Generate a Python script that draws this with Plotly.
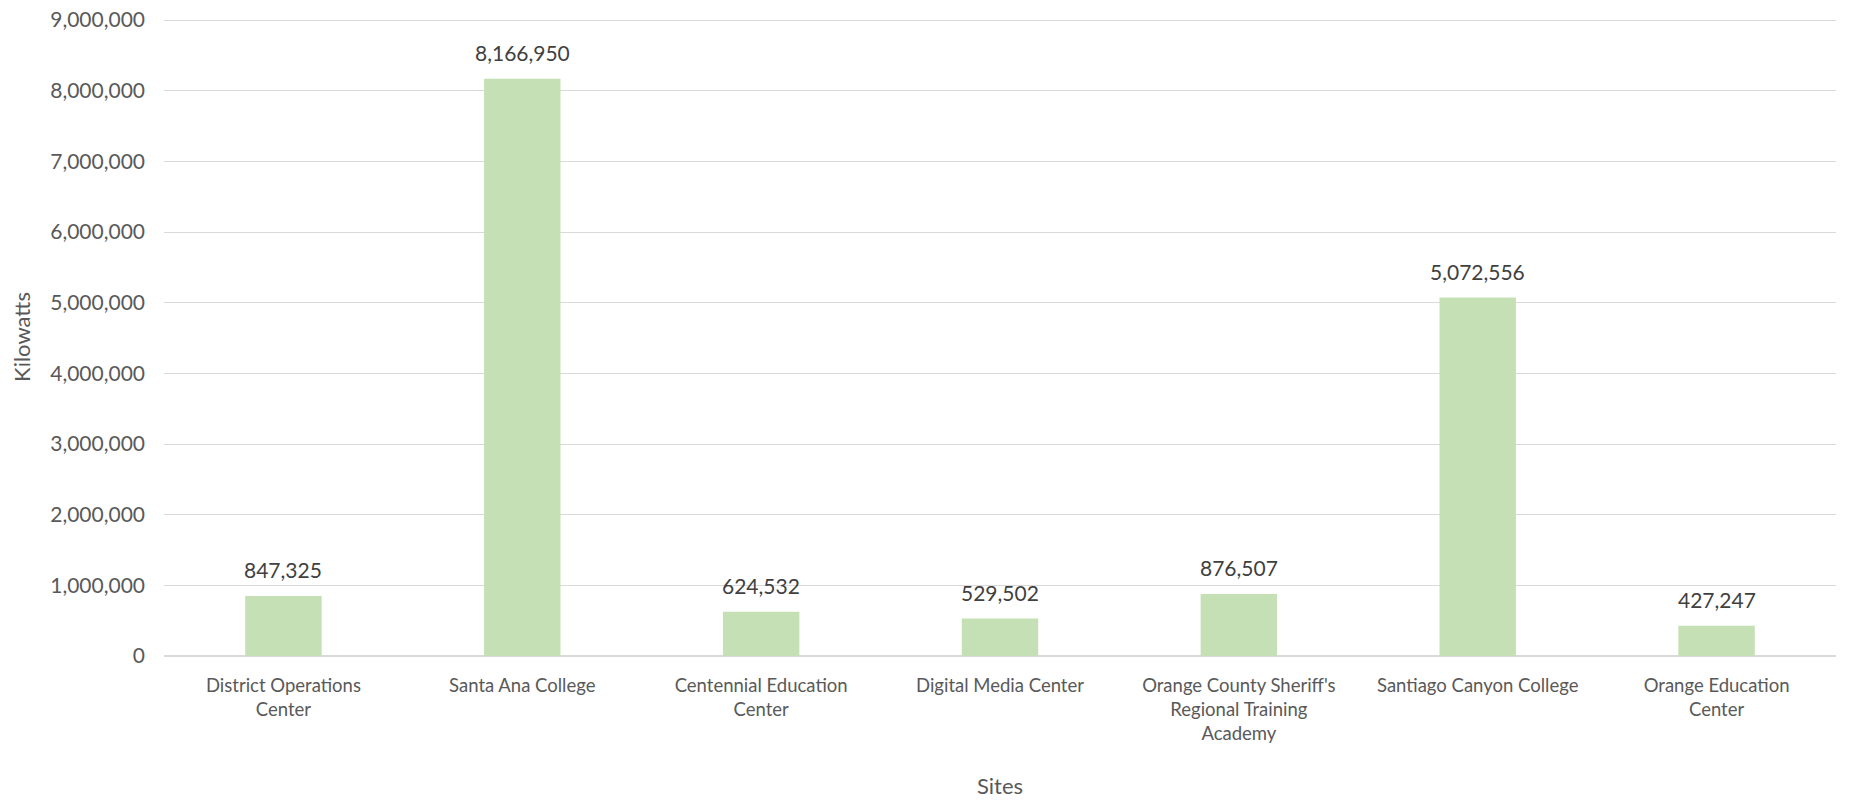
import plotly.graph_objects as go

sites = ["District Operations<br>Center", "Santa Ana College", "Centennial Education<br>Center",
         "Digital Media Center", "Orange County Sheriff's<br>Regional Training<br>Academy",
         "Santiago Canyon College", "Orange Education<br>Center"]
kilowatts = [847325, 8166950, 624532, 529502, 876507, 5072556, 427247]
tick_vals = [0, 1000000, 2000000, 3000000, 4000000, 5000000, 6000000, 7000000, 8000000, 9000000]
tick_text = ["0", "1,000,000", "2,000,000", "3,000,000", "4,000,000", "5,000,000",
             "6,000,000", "7,000,000", "8,000,000", "9,000,000"]
value_labels = ["847,325", "8,166,950", "624,532", "529,502", "876,507", "5,072,556", "427,247"]

font_family = "Lato, Open Sans, sans-serif"

fig = go.Figure(go.Bar(
    x=sites, y=kilowatts,
    marker=dict(color="#c5e0b4", line=dict(width=0)),
    hoverinfo="x+y",
))

for s, v, t in zip(sites, kilowatts, value_labels):
    fig.add_annotation(x=s, y=v, text=t, showarrow=False, yanchor="bottom",
                       yshift=12, font=dict(size=21, color="#404040", family=font_family))

fig.update_layout(
    width=1852, height=793,
    margin=dict(l=156, r=24, t=10, b=145),
    paper_bgcolor="white", plot_bgcolor="white",
    bargap=0.68,
    showlegend=False,
    font=dict(family=font_family, color="#595959", size=19),
    xaxis=dict(
        title=dict(text="Sites", font=dict(size=22, color="#595959"), standoff=36),
        tickfont=dict(size=18.5, color="#595959"),
        showgrid=False, showline=False, ticks="",
        tickangle=0, automargin=False, ticklabelstandoff=16,
    ),
    yaxis=dict(
        title=dict(text="Kilowatts", font=dict(size=22, color="#595959"), standoff=14),
        range=[0, 9028300],
        tickvals=tick_vals, ticktext=tick_text,
        tickfont=dict(size=21, color="#595959"),
        showgrid=True, gridcolor="#d9d9d9", gridwidth=1,
        zeroline=True, zerolinecolor="#d9d9d9", zerolinewidth=2,
        showline=False, ticks="", automargin=False, ticklabelstandoff=18,
        ticklabeloverflow="allow",
    ),
)

fig.write_html("out.html", config={"displayModeBar": False})
